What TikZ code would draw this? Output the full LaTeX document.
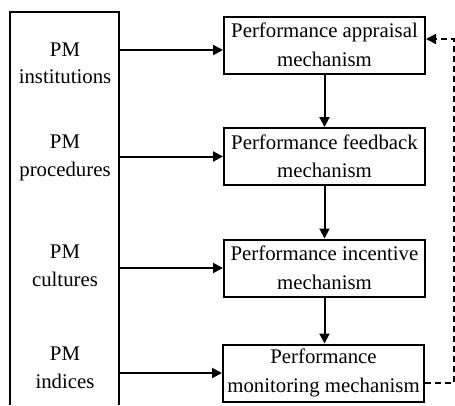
\documentclass[tikz,border=0pt]{standalone}
\usepackage{fontspec}
\setmainfont{Liberation Serif}
\usetikzlibrary{arrows.meta}
\begin{document}
\begin{tikzpicture}[x=1pt,y=-1pt,
  mech/.style={draw, line width=2pt, minimum width=201pt, minimum height=57pt,
    align=center, inner sep=0pt, font=\fontsize{20.8}{28.5}\selectfont},
  pmtext/.style={align=center, inner sep=0pt, font=\fontsize{20.8}{27.5}\selectfont},
  arr/.style={line width=2pt, -{Triangle[length=10pt,width=10pt]}},
  darr/.style={line width=1.5pt, dash pattern=on 6pt off 4pt, -{Triangle[length=10pt,width=10pt]}}]
\useasboundingbox (0,0) rectangle (455,405);
\fill[white] (0,0) rectangle (455,405);
% left container
\draw[line width=2pt] (10,405) -- (10,12) -- (119,12) -- (119,405);
\coordinate (L) at (119,0);
\node[pmtext] (p1) at (65,63.5) {PM\\institutions};
\node[pmtext] (p2) at (65,158) {PM\\procedures};
\node[pmtext] (p3) at (65,266) {PM\\cultures};
\node[pmtext] (p4) at (65,368) {PM\\indices};
% mechanism boxes
\node[mech] (b1) at (324.5,45) {Performance appraisal\\mechanism};
\node[mech] (b2) at (324.5,156.5) {Performance feedback\\mechanism};
\node[mech] (b3) at (324.5,268) {Performance incentive\\mechanism};
\node[mech] (b4) at (323.5,373) {Performance\\monitoring mechanism};
\coordinate (b1in) at ([yshift=-5pt]b1.west);
\coordinate (b1fb) at ([yshift=6pt]b1.east);
\coordinate (b4fb) at ([yshift=-10pt]b4.east);
% horizontal arrows
\draw[arr] (L |- b1in) -- (b1in);
\draw[arr] (L |- b2.west) -- (b2.west);
\draw[arr] (L |- b3.west) -- (b3.west);
\draw[arr] (L |- b4.west) -- (b4.west);
% vertical arrows
\draw[arr] (b1.south) -- (b1.south |- b2.north);
\draw[arr] (b2.south) -- (b2.south |- b3.north);
\draw[arr] (b3.south) -- (b3.south |- b4.north);
% feedback dashed
\coordinate (R) at (454,0);
\draw[darr] (b4fb) -- (R |- b4fb) -- (R |- b1fb) -- (b1fb);
\end{tikzpicture}
\end{document}
